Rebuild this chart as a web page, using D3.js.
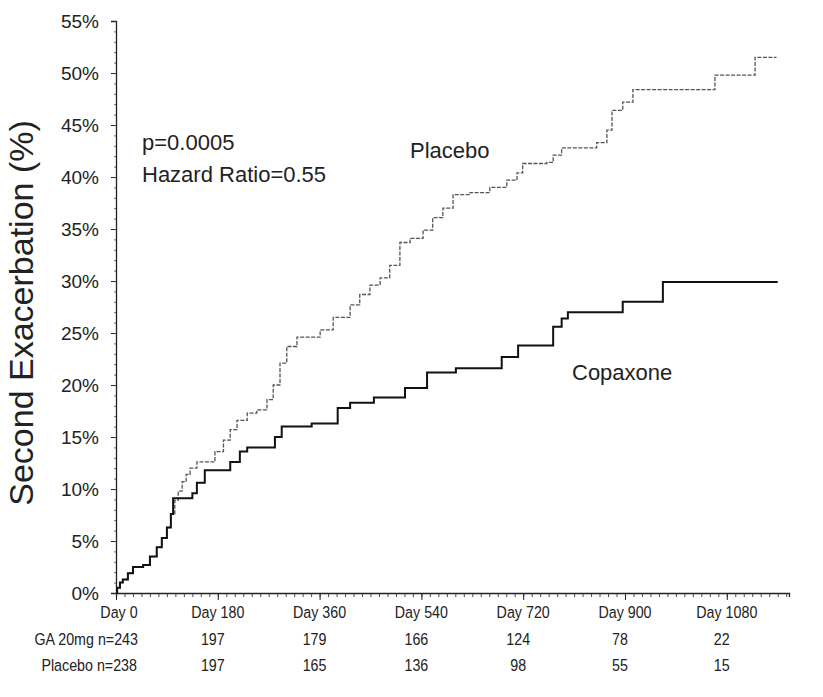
<!DOCTYPE html>
<html>
<head>
<meta charset="utf-8">
<script src="https://cdn.jsdelivr.net/npm/d3@7"></script>
<style>
  body { margin: 0; background: #fff; }
  text { font-family: "Liberation Sans", Arial, sans-serif; fill: #222; }
</style>
</head>
<body>
<div id="chart"></div>
<script>
// Kaplan-Meier style cumulative curves
const placeboDay = [0, 2, 7, 12, 21, 30, 48, 60, 72, 81, 90, 97, 104, 110, 117, 124, 131, 143, 175, 190, 202, 214, 232, 249, 267, 278, 290, 302, 320, 361, 384, 414, 431, 449, 467, 484, 502, 520, 543, 560, 578, 596, 626, 661, 691, 709, 719, 762, 773, 788, 850, 868, 877, 896, 914, 1059, 1130, 1168];
const placeboPct = [0, 0.5, 1.0, 1.3, 1.9, 2.5, 2.7, 3.5, 4.4, 5.3, 6.3, 7.6, 8.9, 9.8, 10.7, 11.4, 12.0, 12.6, 13.6, 14.7, 15.7, 16.6, 17.3, 17.6, 18.6, 20.0, 22.1, 23.7, 24.6, 25.3, 26.5, 27.7, 28.7, 29.6, 30.3, 31.5, 33.7, 34.1, 34.9, 36.1, 37.0, 38.3, 38.5, 39.0, 39.7, 40.4, 41.3, 41.4, 42.1, 42.8, 43.3, 44.5, 46.4, 47.2, 48.4, 49.8, 51.5, 51.5];

const copaxoneDay = [0, 2, 7, 12, 21, 30, 48, 60, 72, 81, 90, 97, 101, 135, 143, 157, 202, 219, 232, 281, 293, 346, 392, 414, 456, 511, 550, 601, 682, 711, 773, 788, 799, 896, 967, 1170];
const copaxonePct = [0, 0.5, 1.0, 1.3, 1.9, 2.5, 2.7, 3.5, 4.4, 5.3, 6.3, 7.6, 9.1, 9.6, 10.6, 11.8, 12.6, 13.6, 14.0, 15.0, 16.0, 16.3, 17.8, 18.3, 18.8, 19.7, 21.2, 21.6, 22.7, 23.8, 25.6, 26.4, 27.0, 28.0, 29.9, 29.9];

const yTicks = [0, 5, 10, 15, 20, 25, 30, 35, 40, 45, 50, 55];
const dayTicks = [0, 180, 360, 540, 720, 900, 1080];
const gaAtRisk = [null, 197, 179, 166, 124, 78, 22];
const placeboAtRisk = [null, 197, 165, 136, 98, 55, 15];

const width = 823, height = 697;
const x0 = 116, x1 = 789, yTop = 21, yBottom = 593;
const squeeze = 0.84; // scanned table text is narrow

const svg = d3.select('#chart').append('svg')
  .attr('width', width)
  .attr('height', height);

svg.append('rect').attr('width', width).attr('height', height).attr('fill', '#fff');

const x = d3.scaleLinear().domain([0, 1190]).range([x0, x1]);
const y = d3.scaleLinear().domain([0, 55]).range([yBottom, yTop]);

// y axis
const yAxis = svg.append('g')
  .attr('transform', `translate(${x0},0)`)
  .call(d3.axisLeft(y).tickValues(yTicks).tickFormat(d => d + '%').tickSize(5).tickPadding(12));
yAxis.select('.domain').attr('stroke', '#222').attr('stroke-width', 1.3);
yAxis.selectAll('.tick line').attr('stroke', '#222');
yAxis.selectAll('.tick text')
  .style('font-size', '19px')
  .attr('fill', '#444');

svg.append('g')
  .attr('transform', `translate(${x0},0)`)
  .call(d3.axisLeft(y).tickValues(d3.range(0, 56, 1)).tickFormat('').tickSize(2))
  .call(g => g.select('.domain').remove())
  .selectAll('line').attr('stroke', '#444').attr('stroke-width', 0.8);

// x axis
const xAxis = svg.append('g')
  .attr('transform', `translate(0,${yBottom})`)
  .call(d3.axisBottom(x).tickValues(d3.range(0, 1191, 15)).tickFormat('').tickSize(4));
xAxis.select('.domain').attr('stroke', '#222').attr('stroke-width', 1.3);
xAxis.selectAll('.tick line').attr('stroke', '#333').attr('stroke-width', 0.9);

svg.append('g')
  .attr('transform', `translate(0,${yBottom})`)
  .call(d3.axisBottom(x).tickValues(dayTicks).tickFormat('').tickSize(7))
  .call(g => g.select('.domain').remove())
  .selectAll('line').attr('stroke', '#222');

// y title
svg.append('text')
  .attr('transform', 'translate(33,313) rotate(-90)')
  .attr('text-anchor', 'middle')
  .style('font-size', '34px')
  .attr('fill', '#333')
  .text('Second Exacerbation (%)');

// curves
const line = d3.line()
  .x(d => x(d[0]))
  .y(d => y(d[1]))
  .curve(d3.curveStepAfter);

svg.append('path')
  .datum(d3.zip(placeboDay, placeboPct))
  .attr('d', line)
  .attr('fill', 'none')
  .attr('stroke', '#555')
  .attr('stroke-width', 1.3)
  .attr('stroke-dasharray', '4 1.5');

svg.append('path')
  .datum(d3.zip(copaxoneDay, copaxonePct))
  .attr('d', line)
  .attr('fill', 'none')
  .attr('stroke', '#111')
  .attr('stroke-width', 2);

// annotations
const notes = svg.append('g').style('font-size', '22px').attr('fill', '#333');
notes.append('text').attr('x', 142).attr('y', 150).text('p=0.0005');
notes.append('text').attr('x', 142).attr('y', 182).text('Hazard Ratio=0.55');
notes.append('text').attr('x', 410).attr('y', 158).text('Placebo');
notes.append('text').attr('x', 572).attr('y', 380).text('Copaxone');

// day labels and at-risk table, drawn narrow like the scan
const table = svg.append('g')
  .attr('transform', `scale(${squeeze},1)`)
  .style('font-size', '17px')
  .attr('fill', '#333');

table.selectAll('.day').data(dayTicks).enter().append('text')
  .attr('class', 'day')
  .attr('x', d => (x(d) + (d === 0 ? 3 : 0)) / squeeze)
  .attr('y', 618)
  .attr('text-anchor', 'middle')
  .text(d => 'Day ' + d);

table.append('text').attr('x', 138 / squeeze).attr('y', 645).attr('text-anchor', 'end').text('GA 20mg n=243');
table.append('text').attr('x', 137 / squeeze).attr('y', 671).attr('text-anchor', 'end').text('Placebo n=238');

table.selectAll('.ga').data(dayTicks.slice(1)).enter().append('text')
  .attr('class', 'ga')
  .attr('x', d => (x(d) - 5) / squeeze)
  .attr('y', 645)
  .attr('text-anchor', 'middle')
  .text((d, i) => gaAtRisk[i + 1]);

table.selectAll('.pl').data(dayTicks.slice(1)).enter().append('text')
  .attr('class', 'pl')
  .attr('x', d => (x(d) - 5) / squeeze)
  .attr('y', 671)
  .attr('text-anchor', 'middle')
  .text((d, i) => placeboAtRisk[i + 1]);
</script>
</body>
</html>
